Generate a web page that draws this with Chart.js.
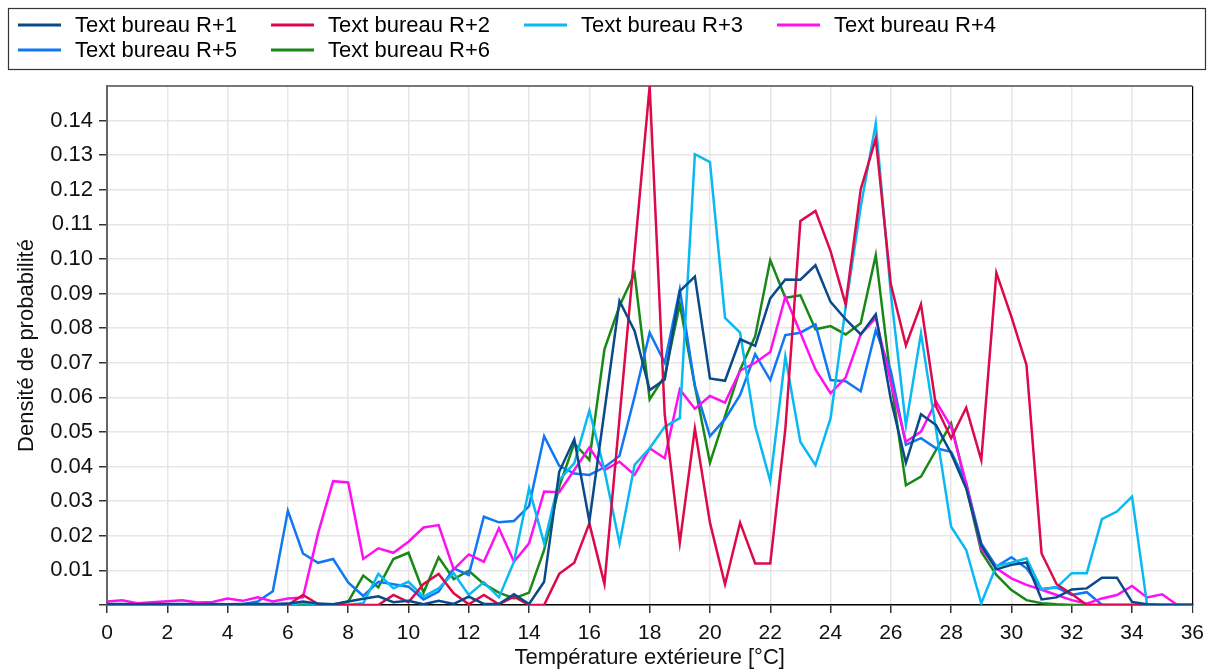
<!DOCTYPE html>
<html>
<head>
<meta charset="utf-8">
<script src="https://cdn.jsdelivr.net/npm/chart.js@4/dist/chart.umd.min.js"></script>
<style>
  html, body { margin: 0; padding: 0; background: #fff; }
  #wrap { width: 1212px; height: 671px; position: relative; }
</style>
</head>
<body>
<div id="wrap"><canvas id="chart"></canvas></div>
<script>
// temperature bins (°C)
const temps = [
  0, 0.5, 1, 1.5, 2, 2.5, 3, 3.5, 4, 4.5, 5, 5.5, 6, 6.5, 7, 7.5, 8, 8.5, 9, 9.5,
  10, 10.5, 11, 11.5, 12, 12.5, 13, 13.5, 14, 14.5, 15, 15.5, 16, 16.5, 17, 17.5,
  18, 18.5, 19, 19.5, 20, 20.5, 21, 21.5, 22, 22.5, 23, 23.5, 24, 24.5, 25, 25.5,
  26, 26.5, 27, 27.5, 28, 28.5, 29, 29.5, 30, 30.5, 31, 31.5, 32, 32.5, 33, 33.5,
  34, 34.5, 35, 35.5, 36
];

const seriesNames = ["Text bureau R+1", "Text bureau R+2", "Text bureau R+3",
  "Text bureau R+4", "Text bureau R+5", "Text bureau R+6"];
const seriesColors = ["#0b4a8a", "#dc0a4a", "#0ab9f2", "#ff10f0", "#0f78f2", "#188816"];

// densities, one value per temperature bin
const r1 = [
  0.0003, 0.0003, 0.0002, 0.0003, 0.0003, 0.0003, 0.0002, 0.0003, 0.0002, 0.0003,
  0.0003, 0.0003, 0.0004, 0.0010, 0.0004, 0.0002, 0.0010, 0.0018, 0.0025, 0.0008,
  0.0012, 0.0002, 0.0012, 0.0003, 0.0024, 0.0003, 0.0003, 0.0031, 0.0003, 0.0067,
  0.0385, 0.0479, 0.0242, 0.0560, 0.0879, 0.0792, 0.0621, 0.0652, 0.0907, 0.0949,
  0.0655, 0.0648, 0.0768, 0.0749, 0.0886, 0.0941, 0.0940, 0.0982, 0.0876, 0.0826,
  0.0782, 0.0840, 0.0594, 0.0411, 0.0551, 0.0520, 0.0438, 0.0337, 0.0173, 0.0103,
  0.0116, 0.0123, 0.0016, 0.0022, 0.0045, 0.0048, 0.0079, 0.0079, 0.0009, 0.0002,
  0, 0, 0
];
const r2 = [
  0, 0, 0, 0, 0, 0, 0, 0, 0, 0,
  0, 0, 0, 0.0029, 0.0003, 0, 0, 0, 0, 0.0029,
  0.0008, 0.0061, 0.0090, 0.0034, 0.0002, 0.0029, 0.0002, 0.0024, 0, 0,
  0.0090, 0.0122, 0.0236, 0.0061, 0.0540, 0.1020, 0.1500, 0.0550, 0.0180, 0.0510,
  0.0238, 0.0060, 0.0238, 0.0120, 0.0120, 0.0508, 0.1110, 0.1139, 0.1023, 0.0869,
  0.1201, 0.1348, 0.0927, 0.0750, 0.0869, 0.0573, 0.0482, 0.0570, 0.0419, 0.0960,
  0.0833, 0.0694, 0.0149, 0.0060, 0.0032, 0, 0, 0, 0, 0,
  0, 0, 0
];
const r3 = [
  0.0001, 0.0001, 0.0001, 0.0001, 0.0001, 0.0001, 0.0001, 0.0001, 0.0001, 0.0001,
  0.0001, 0.0001, 0.0001, 0.0006, 0.0002, 0.0001, 0.0001, 0.0005, 0.0090, 0.0048,
  0.0067, 0.0024, 0.0048, 0.0092, 0.0029, 0.0066, 0.0022, 0.0125, 0.0337, 0.0178,
  0.0361, 0.0410, 0.0562, 0.0390, 0.0178, 0.0405, 0.0453, 0.0515, 0.0540, 0.1303,
  0.1280, 0.0830, 0.0787, 0.0517, 0.0358, 0.0718, 0.0471, 0.0404, 0.0539, 0.0860,
  0.1150, 0.1392, 0.0900, 0.0520, 0.0785, 0.0506, 0.0226, 0.0159, 0.0005, 0.0113,
  0.0122, 0.0135, 0.0045, 0.0051, 0.0092, 0.0092, 0.0248, 0.0270, 0.0313, 0.0001,
  0, 0, 0
];
const r4 = [
  0.0010, 0.0014, 0.0005, 0.0008, 0.0011, 0.0014, 0.0007, 0.0009, 0.0019, 0.0012,
  0.0022, 0.0010, 0.0019, 0.0022, 0.0207, 0.0358, 0.0354, 0.0133, 0.0164, 0.0151,
  0.0183, 0.0224, 0.0231, 0.0103, 0.0146, 0.0125, 0.0222, 0.0125, 0.0178, 0.0328,
  0.0326, 0.0390, 0.0455, 0.0390, 0.0414, 0.0376, 0.0453, 0.0424, 0.0623, 0.0567,
  0.0604, 0.0585, 0.0677, 0.0700, 0.0731, 0.0891, 0.0787, 0.0681, 0.0612, 0.0657,
  0.0782, 0.0830, 0.0643, 0.0472, 0.0501, 0.0588, 0.0515, 0.0352, 0.0164, 0.0106,
  0.0077, 0.0058, 0.0044, 0.0029, 0.0014, 0.0004, 0.0019, 0.0029, 0.0055, 0.0022,
  0.0031, 0, 0
];
const r5 = [
  0.0002, 0.0002, 0.0002, 0.0002, 0.0002, 0.0002, 0.0002, 0.0002, 0.0002, 0.0002,
  0.0010, 0.0040, 0.0272, 0.0149, 0.0122, 0.0133, 0.0065, 0.0026, 0.0067, 0.0060,
  0.0053, 0.0016, 0.0039, 0.0106, 0.0087, 0.0255, 0.0239, 0.0243, 0.0286, 0.0488,
  0.0402, 0.0380, 0.0376, 0.0398, 0.0431, 0.0602, 0.0787, 0.0700, 0.0912, 0.0633,
  0.0488, 0.0537, 0.0607, 0.0725, 0.0650, 0.0780, 0.0787, 0.0811, 0.0650, 0.0647,
  0.0618, 0.0794, 0.0676, 0.0463, 0.0482, 0.0453, 0.0443, 0.0352, 0.0178, 0.0111,
  0.0138, 0.0106, 0.0046, 0.0051, 0.0029, 0.0037, 0.0001, 0, 0, 0,
  0, 0, 0
];
const r6 = [
  0, 0, 0, 0, 0, 0, 0, 0, 0, 0,
  0, 0, 0, 0, 0, 0, 0.0010, 0.0085, 0.0051, 0.0133,
  0.0151, 0.0036, 0.0138, 0.0075, 0.0099, 0.0061, 0.0036, 0.0019, 0.0036, 0.0159,
  0.0342, 0.0467, 0.0419, 0.0739, 0.0864, 0.0958, 0.0594, 0.0662, 0.0869, 0.0633,
  0.0411, 0.0546, 0.0680, 0.0777, 0.0997, 0.0888, 0.0895, 0.0797, 0.0806, 0.0782,
  0.0814, 0.1011, 0.0652, 0.0346, 0.0371, 0.0448, 0.0525, 0.0342, 0.0154, 0.0087,
  0.0043, 0.0014, 0.0005, 0.0002, 0, 0, 0, 0, 0, 0,
  0, 0, 0
];
const allSeries = [r1, r2, r3, r4, r5, r6];

const FONT = "'Liberation Sans', Arial, sans-serif";

// legend drawn in a framed box above the plot, two rows of four columns
const boxedLegend = {
  id: "boxedLegend",
  afterDraw(chart) {
    const ctx = chart.ctx;
    ctx.save();
    ctx.strokeStyle = "#333";
    ctx.lineWidth = 1.2;
    ctx.strokeRect(8.5, 8.5, 1197, 61);
    ctx.font = "22px " + FONT;
    ctx.textBaseline = "middle";
    ctx.fillStyle = "#000";
    chart.data.datasets.forEach((ds, i) => {
      const col = i % 4;
      const row = Math.floor(i / 4);
      const x = 18 + col * 253;
      const y = 25 + row * 25;
      ctx.strokeStyle = ds.borderColor;
      ctx.lineWidth = 3;
      ctx.beginPath();
      ctx.moveTo(x, y);
      ctx.lineTo(x + 43, y);
      ctx.stroke();
      ctx.fillText(ds.label, x + 57, y + 1);
    });
    ctx.restore();
  },
};

const isTop = (v) => v > 0.1495;

new Chart(document.getElementById("chart"), {
  type: "line",
  data: {
    datasets: allSeries.map((vals, i) => ({
      label: seriesNames[i],
      data: vals.map((v, j) => ({ x: temps[j], y: v })),
      borderColor: seriesColors[i],
      backgroundColor: seriesColors[i],
      borderWidth: 2.5,
      pointRadius: 0,
      tension: 0,
      fill: false,
    })),
  },
  options: {
    responsive: true,
    maintainAspectRatio: false,
    animation: false,
    layout: { padding: { top: 86, right: 19, left: 0, bottom: 0 } },
    plugins: {
      legend: { display: false },
      tooltip: { enabled: false },
    },
    scales: {
      x: {
        type: "linear",
        min: 0,
        max: 36,
        afterFit: (scale) => { scale.height = 66; },
        ticks: {
          stepSize: 2,
          color: "#111",
          padding: 8,
          maxRotation: 0,
          font: { family: FONT, size: 21 },
        },
        grid: {
          color: (c) => (c.tick && c.tick.value === 36 ? "#000" : "#e6e6e6"),
          lineWidth: (c) => (c.tick && c.tick.value === 36 ? 1.2 : 1.5),
          tickColor: "#333",
          tickLength: 8,
        },
        border: { color: "#000", width: 1.5 },
        title: {
          display: true,
          text: "Température extérieure [°C]",
          color: "#111",
          padding: { top: 0, bottom: 0 },
          font: { family: FONT, size: 22 },
        },
      },
      y: {
        min: 0,
        max: 0.15,
        afterFit: (scale) => { scale.width = 107; },
        ticks: {
          stepSize: 0.01,
          color: "#111",
          padding: 6,
          font: { family: FONT, size: 22 },
          callback: (v) => (v <= 0 || isTop(v) ? "" : v.toFixed(2)),
        },
        grid: {
          color: (c) => (c.tick && isTop(c.tick.value) ? "#777" : "#e6e6e6"),
          lineWidth: (c) => (c.tick && isTop(c.tick.value) ? 2 : 1.5),
          tickColor: (c) => (c.tick && isTop(c.tick.value) ? "rgba(0,0,0,0)" : "#333"),
          tickLength: 8,
        },
        border: { color: "#666", width: 2 },
        title: {
          display: true,
          text: "Densité de probabilité",
          color: "#111",
          padding: { top: 14, bottom: 0 },
          font: { family: FONT, size: 22 },
        },
      },
    },
  },
  plugins: [boxedLegend],
});
</script>
</body>
</html>
